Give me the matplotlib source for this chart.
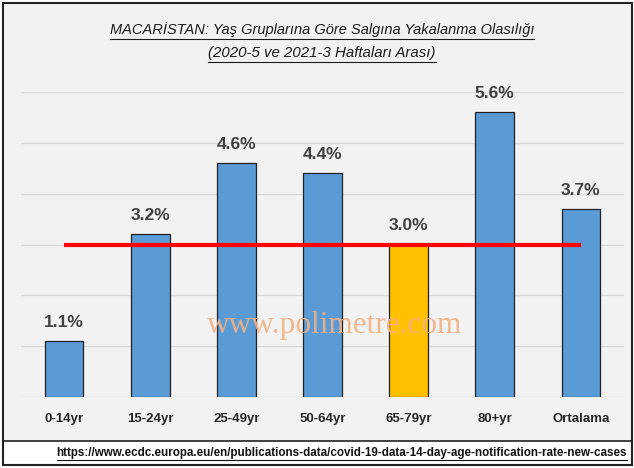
import matplotlib
matplotlib.use("Agg")
import matplotlib.pyplot as plt
from matplotlib.patches import Rectangle
from matplotlib.lines import Line2D

categories = ["0-14yr", "15-24yr", "25-49yr", "50-64yr", "65-79yr", "80+yr", "Ortalama"]
values = [1.1, 3.2, 4.6, 4.4, 3.0, 5.6, 3.7]
labels = ["1.1%", "3.2%", "4.6%", "4.4%", "3.0%", "5.6%", "3.7%"]
colors = ["#5b9bd5", "#5b9bd5", "#5b9bd5", "#5b9bd5", "#ffc000", "#5b9bd5", "#5b9bd5"]
ref_level = 3.0
title1 = "MACARİSTAN: Yaş Gruplarına Göre Salgına Yakalanma Olasılığı"
title2 = "(2020-5 ve 2021-3 Haftaları Arası)"
source = "https://www.ecdc.europa.eu/en/publications-data/covid-19-data-14-day-age-notification-rate-new-cases"
watermark = "www.polimetre.com"

FONT = ["Liberation Sans", "DejaVu Sans"]
W, H = 634, 468
fig = plt.figure(figsize=(W / 100, H / 100), dpi=100)
fig.patch.set_facecolor("white")

# chart background area
fig.patches.append(Rectangle((3 / W, 1 - 441 / H), 629 / W, 438 / H, transform=fig.transFigure,
                             facecolor="#f2f2f2", edgecolor="none", zorder=-5))
# outer frame
fig.patches.append(Rectangle((3 / W, 1 - 465 / H), 629 / W, 462 / H, transform=fig.transFigure,
                             facecolor="none", edgecolor="#222222", lw=1.5, zorder=5))
fig.lines.append(Line2D([3 / W, 632 / W], [1 - 441 / H, 1 - 441 / H], transform=fig.transFigure,
                        color="#222222", lw=1.2, zorder=5))

ax = fig.add_axes([21 / W, 1 - 397 / H, 603 / W, 305 / H])
ax.set_facecolor("none")
ax.set_zorder(2)
x = list(range(len(categories)))
ax.bar(x, values, width=0.45, color=colors, edgecolor="#222222", linewidth=0.9, zorder=3)
ax.set_xlim(-0.5, len(categories) - 0.5)
ax.set_ylim(0, 6)
ax.set_yticks([0, 1, 2, 3, 4, 5, 6])
ax.yaxis.grid(True, color="#d9d9d9", lw=1)
ax.set_axisbelow(True)
ax.tick_params(axis="y", left=False, labelleft=False)
ax.tick_params(axis="x", bottom=False, pad=8)
ax.set_xticks(x)
ax.set_xticklabels(categories, fontsize=9.5, fontweight="bold", color="#262626", family=FONT)
for s in ax.spines.values():
    s.set_visible(False)

ax.plot([0, len(categories) - 1], [ref_level, ref_level], color="#ff0000", lw=3, zorder=4,
        solid_capstyle="butt")

for xi, v, lab in zip(x, values, labels):
    ax.annotate(lab, (xi, v), xytext=(0, 8), textcoords="offset points", ha="center", va="bottom",
                fontsize=12.5, fontweight="bold", color="#404040", family=FONT, annotation_clip=False)

ax.text(0.52, 0.235, watermark, transform=ax.transAxes, ha="center", va="center",
        fontsize=22.5, family=["Liberation Serif", "DejaVu Serif"], color="#f4b183", alpha=0.9, zorder=5)

t1 = fig.text(0.508, 1 - 30 / H, title1, ha="center", va="center", fontsize=10.5, style="italic",
              family=FONT, color="#1a1a1a")
t2 = fig.text(0.508, 1 - 53 / H, title2, ha="center", va="center", fontsize=10.8, style="italic",
              family=FONT, color="#1a1a1a")
t3 = fig.text(627 / W, 1 - 453 / H, source, ha="right", va="center", fontsize=8.4, fontweight="bold",
              family=FONT, color="#111111")

fig.canvas.draw()
r = fig.canvas.get_renderer()
inv = fig.transFigure.inverted()
for t, off in ((t1, 2), (t2, 2), (t3, 1)):
    bb = t.get_window_extent(r)
    (x0, y0), (x1, _) = inv.transform([(bb.x0, bb.y0 - off), (bb.x1, bb.y0)])
    fig.lines.append(Line2D([x0, x1], [y0, y0], transform=fig.transFigure, color=t.get_color(), lw=0.8))

fig.savefig("out.png", dpi=100)
